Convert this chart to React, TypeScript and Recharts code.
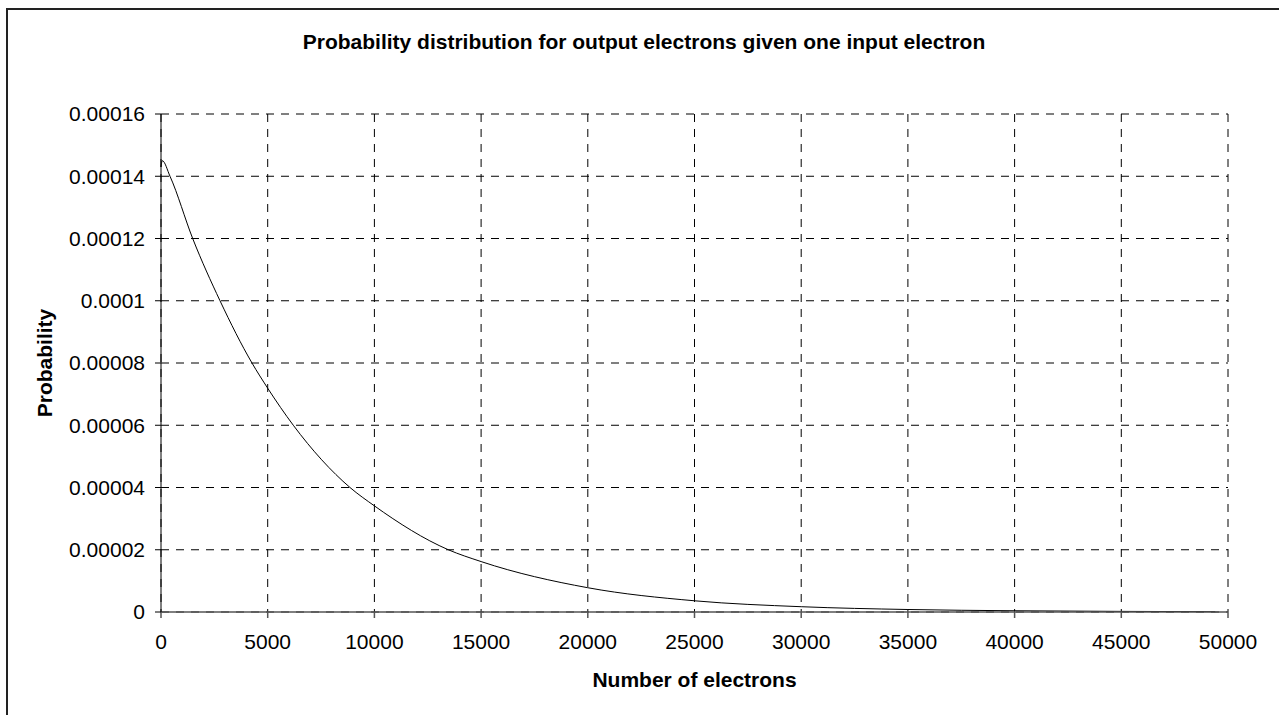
import React from "react";
import { LineChart, Line, XAxis, YAxis, CartesianGrid, Label } from "recharts";

const electrons = [0, 60, 422, 1485, 2765, 4264, 5000, 6200, 8857, 10000, 13464, 15000, 20000, 25000, 30000, 35000, 40000, 45000, 49400];
const probability = [0.000143, 0.000145, 0.00014, 0.00012, 0.0001, 0.00008, 0.0000719, 0.00006, 0.00004, 0.0000341, 0.00002, 0.0000162, 0.0000078, 0.0000036, 0.0000017, 0.0000008, 0.0000004, 0.0000002, 0.0000001];
const xTicks = [0, 5000, 10000, 15000, 20000, 25000, 30000, 35000, 40000, 45000, 50000];
const yTicks = [0, 0.00002, 0.00004, 0.00006, 0.00008, 0.0001, 0.00012, 0.00014, 0.00016];
const titleText = "Probability distribution for output electrons given one input electron";
const xTitle = "Number of electrons";
const yTitle = "Probability";

const data = electrons.map((x, i) => ({ x, p: probability[i] }));

const FONT = "'Liberation Sans', Arial, sans-serif";

export default function App() {
  return (
    <div style={{ position: "absolute", left: 0, top: 0, width: 1279, height: 715, overflow: "hidden", background: "#fff" }}>
      <div style={{ position: "absolute", left: 6, top: 8, width: 1400, height: 800, border: "2px solid #222" }} />
      <div style={{ position: "absolute", left: 0, top: 0 }}>
        <LineChart width={1279} height={715} data={data} margin={{ top: 114, right: 51, bottom: 43, left: 61 }}>
          <CartesianGrid stroke="#000" strokeDasharray="8 7" strokeWidth={1} />
          <XAxis
            type="number"
            dataKey="x"
            domain={[0, 50000]}
            ticks={xTicks}
            tickFormatter={(v) => String(v)}
            height={60}
            stroke="#555"
            strokeWidth={1.5}
            tickSize={6}
            tickMargin={16}
            tick={{ fill: "#000", fontSize: 21, fontFamily: FONT }}
            interval={0}
          >
            <Label
              content={(props: any) => {
                const vb = props.viewBox || {};
                return (
                  <text x={vb.x + vb.width / 2} y={vb.y + 75} textAnchor="middle" fontFamily={FONT} fontSize={21} fontWeight="bold" fill="#000">
                    {xTitle}
                  </text>
                );
              }}
            />
          </XAxis>
          <YAxis
            type="number"
            domain={[0, 0.00016]}
            ticks={yTicks}
            tickFormatter={(v) => String(v)}
            width={100}
            stroke="#000"
            tickSize={6}
            tickMargin={10}
            tick={{ fill: "#000", fontSize: 21, fontFamily: FONT }}
            interval={0}
          >
            <Label
              content={(props: any) => {
                const vb = props.viewBox || {};
                const cx = 52;
                const cy = vb.y + vb.height / 2;
                return (
                  <text x={cx} y={cy} transform={`rotate(-90 ${cx} ${cy})`} textAnchor="middle" fontFamily={FONT} fontSize={21} fontWeight="bold" fill="#000">
                    {yTitle}
                  </text>
                );
              }}
            />
          </YAxis>
          <Line type="monotone" dataKey="p" stroke="#000" strokeWidth={1} dot={false} isAnimationActive={false} />
        </LineChart>
      </div>
      <svg width={1279} height={715} style={{ position: "absolute", left: 0, top: 0, pointerEvents: "none" }}>
        <text x={644} y={49} textAnchor="middle" fontFamily={FONT} fontSize={21} fontWeight="bold" fill="#000">
          {titleText}
        </text>
      </svg>
    </div>
  );
}
